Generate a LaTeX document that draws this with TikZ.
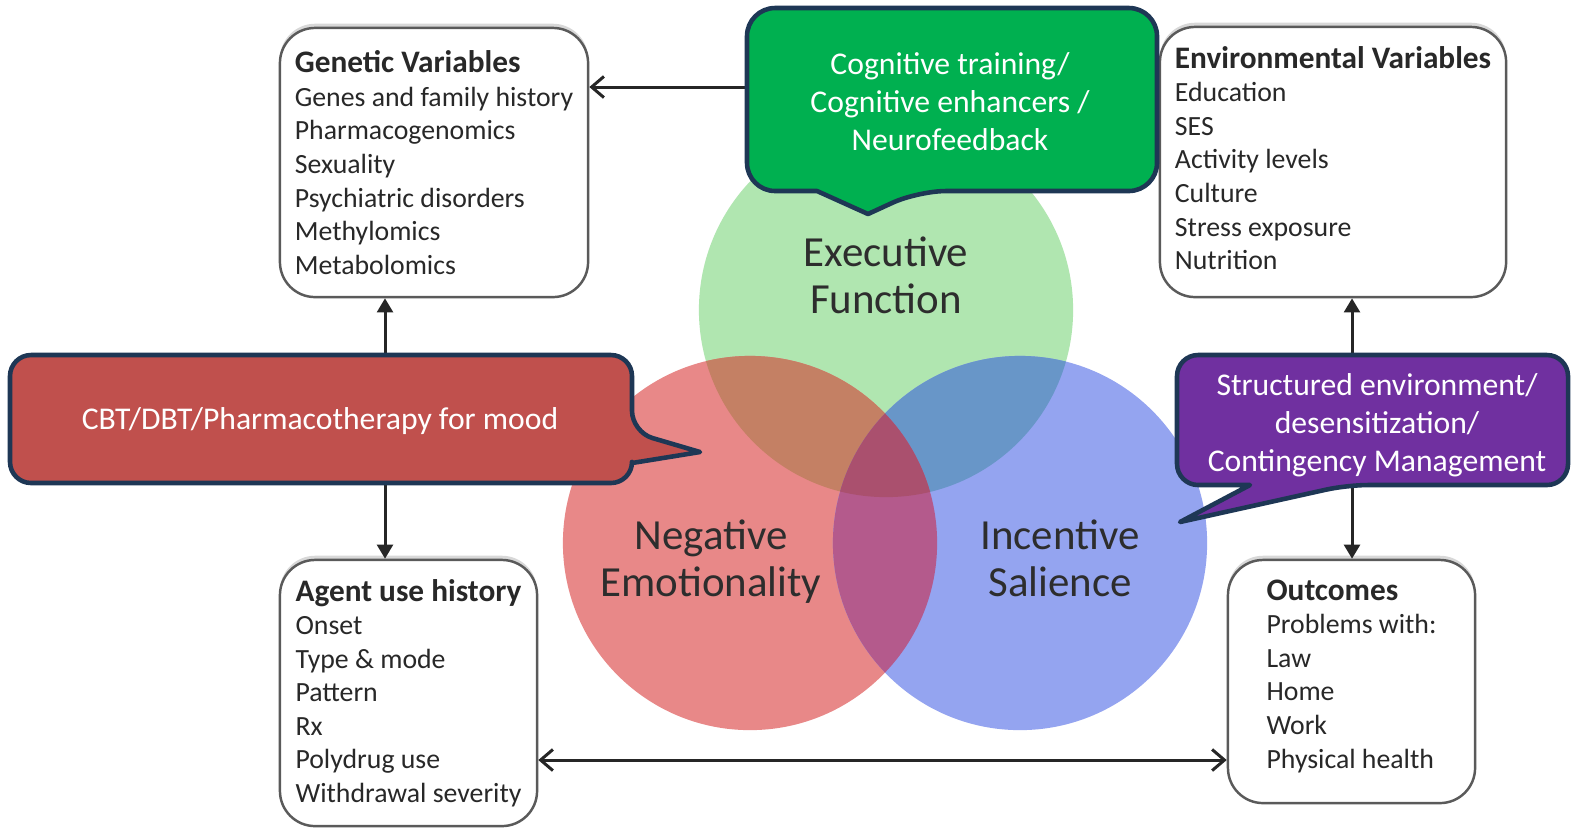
\documentclass[tikz,border=0pt]{standalone}
\usepackage{fontspec}
\setmainfont{Carlito}
\usetikzlibrary{arrows.meta,shadows}
\definecolor{cgreen}{RGB}{0,176,80}
\definecolor{cred}{RGB}{192,80,77}
\definecolor{cpurple}{RGB}{112,48,160}
\definecolor{navy}{RGB}{30,55,85}
\definecolor{boxgray}{RGB}{90,90,90}
\definecolor{txtgray}{RGB}{40,40,40}
\definecolor{circtext}{RGB}{45,45,45}
\definecolor{ciG}{RGB}{176,230,176}
\definecolor{ciR}{RGB}{232,136,136}
\definecolor{ciB}{RGB}{148,164,240}
\definecolor{ciGR}{RGB}{196,128,100}
\definecolor{ciGB}{RGB}{104,150,200}
\definecolor{ciRB}{RGB}{180,90,140}
\definecolor{ciGRB}{RGB}{170,80,110}
\begin{document}
\begin{tikzpicture}[x=0.01cm,y=-0.01cm,
  vbox/.style={draw=boxgray, line width=0.7pt, rounded corners=10pt, fill=white,
    align=left, text=txtgray, font=\fontsize{7.9}{9.55}\selectfont, inner sep=0pt,
    drop shadow={shadow xshift=0pt, shadow yshift=1.2pt, opacity=0.3}},
  conn/.style={line width=0.85pt, draw=black!85},
  barb/.tip={Straight Barb[length=3.5pt,width=6pt,line width=0.85pt]},
  tri/.tip={Triangle[length=4pt,width=4.5pt]},
  callout/.style={draw=navy, line width=1.3pt, line join=round},
  ctext/.style={text=white, align=center, font=\fontsize{9}{10.8}\selectfont},
  ctitle/.style={text=circtext, align=center, font=\fontsize{12.2}{13.4}\selectfont}
]
\useasboundingbox (0,0) rectangle (1574,829);
\fill[white] (0,0) rectangle (1574,829);

% circles
\coordinate (cG) at (886,310);
\coordinate (cR) at (750,543);
\coordinate (cB) at (1020,543);
\def\rad{1.87cm}
\fill[ciG] (cG) circle (\rad);
\fill[ciR] (cR) circle (\rad);
\fill[ciB] (cB) circle (\rad);
\begin{scope}\clip (cG) circle (\rad); \fill[ciGR] (cR) circle (\rad); \end{scope}
\begin{scope}\clip (cG) circle (\rad); \fill[ciGB] (cB) circle (\rad); \end{scope}
\begin{scope}\clip (cR) circle (\rad); \fill[ciRB] (cB) circle (\rad); \end{scope}
\begin{scope}\clip (cG) circle (\rad); \clip (cR) circle (\rad); \fill[ciGRB] (cB) circle (\rad); \end{scope}

\node[ctitle] (ef) at (886,275) {Executive\\Function};
\node[ctitle] (ne) at (711,562) {Negative\\Emotionality};
\node[ctitle] (is) at (1060,558) {Incentive\\Salience};

% boxes
\node[vbox, minimum width=3.08cm, minimum height=2.69cm] (gen) at (434,162.5)
 {{\fontsize{8.9}{9.55}\selectfont\bfseries Genetic Variables}\\Genes and family history\\Pharmacogenomics\\Sexuality\\Psychiatric disorders\\Methylomics\\Metabolomics};
\node[vbox, minimum width=3.46cm, minimum height=2.70cm, text depth=2.3pt] (env) at (1333,162)
 {{\fontsize{8.9}{9.55}\selectfont\bfseries Environmental Variables}\\Education\\SES\\Activity levels\\Culture\\Stress exposure\\Nutrition};
\node[vbox, minimum width=2.57cm, minimum height=2.66cm] (agent) at (408.5,693)
 {{\fontsize{8.9}{9.55}\selectfont\bfseries Agent use history}\\Onset\\Type \& mode\\Pattern\\Rx\\Polydrug use\\Withdrawal severity};
\node[vbox, minimum width=2.47cm, minimum height=2.43cm, text depth=4.4pt] (out) at (1351.5,681.5)
 {{\fontsize{8.9}{9.55}\selectfont\bfseries Outcomes}\\Problems with:\\Law\\Home\\Work\\Physical health};

% connectors
\coordinate (vl) at (385,0);
\coordinate (vr) at (1352,0);
\coordinate (ht) at (0,87);
\coordinate (hb) at (0,760);
\draw[conn,-barb] (env.west |- ht) -- (gen.east |- ht);
\draw[conn,tri-tri] (gen.south -| vl) -- (agent.north -| vl);
\draw[conn,tri-tri] (env.south -| vr) -- (out.north -| vr);
\draw[conn,barb-barb] (agent.east |- hb) -- (out.west |- hb);

% callouts
\draw[callout, fill=cgreen, rounded corners=8pt] (747,8) -- (1157,8) -- (1157,191) -- (918,191)
  [sharp corners] -- (868,214) -- (817,191) [rounded corners=8pt] -- (747,191) -- cycle;
\node[ctext] (tgreen) at (950,102) {Cognitive training/\\Cognitive enhancers /\\Neurofeedback};

\draw[callout, fill=cred, rounded corners=6pt] (10,355) -- (632,355) -- (632,432)
  [sharp corners] -- (700,452) -- (632,463) [rounded corners=6pt] -- (632,483) -- (10,483) -- cycle;
\node[ctext] (tred) at (320,421) {CBT/DBT/Pharmacotherapy for mood};

\draw[callout, fill=cpurple, rounded corners=6pt] (1177,355) -- (1568,355) -- (1568,485) -- (1347,485)
  [sharp corners] -- (1180,522) -- (1250,485) [rounded corners=6pt] -- (1177,485) -- cycle;
\node[ctext] (tpurple) at (1377,425) {Structured environment/\\desensitization/\\Contingency Management};
\end{tikzpicture}
\end{document}
